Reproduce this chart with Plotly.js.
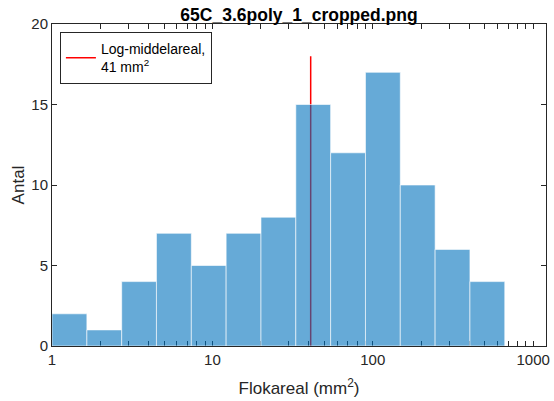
<!DOCTYPE html>
<html>
<head>
<meta charset="utf-8">
<script src="https://cdn.plot.ly/plotly-3.0.1.min.js"></script>
<style>html,body{margin:0;padding:0;background:#fff;}#chart{width:554px;height:401px;}</style>
</head>
<body>
<div id="chart"></div>
<script>
// ---- data ----
const binEdges = [1, 1.65, 2.72, 4.48, 7.39, 12.18, 20.09, 33.12, 54.6, 90.02, 148.41, 244.69, 403.43, 665.14];
const counts = [2, 1, 4, 7, 5, 7, 8, 15, 12, 17, 10, 6, 4];
const logMeanX = [41, 41];
const logMeanY = [0, 18];
const legendLabel = ['Log-middelareal,', '41 mm<sup>2</sup>'];
const xMajorTicks = [1, 10, 100, 1000];
const xMajorLabels = ['1', '10', '100', '1000'];
const xMinorTicks = [2,3,4,5,6,7,8,9,20,30,40,50,60,70,80,90,200,300,400,500,600,700,800,900];
const yTickValues = [0, 5, 10, 15, 20];
const xLimits = [1, 1202];
const yLimits = [0, 20];
const titleText = '65C_3.6poly_1_cropped.png';
const xTitle = 'Flokareal (mm<sup>2</sup>)';
const yTitle = 'Antal';

// ---- build ----
const FONT = 'Liberation Sans, Arial, Helvetica, sans-serif';
const AX = '#262626';
const lg = binEdges.map(v => Math.log10(v));
const centers = counts.map((c, i) => (lg[i] + lg[i + 1]) / 2);
const widths = counts.map((c, i) => lg[i + 1] - lg[i]);

const bars = {
  type: 'bar',
  x: centers,
  y: counts,
  width: widths,
  marker: {color: 'rgba(0,114,189,0.6)', line: {color: 'rgba(255,255,255,0.6)', width: 1}},
  showlegend: false,
  hoverinfo: 'x+y'
};

const layout = {
  width: 554, height: 401,
  margin: {l: 52, r: 8, t: 24, b: 55},
  paper_bgcolor: '#fff', plot_bgcolor: '#fff',
  font: {family: FONT, color: AX},
  title: {
    text: titleText,
    font: {family: FONT, size: 17.5, weight: 'bold', color: '#000'},
    xref: 'paper', x: 0.5, xanchor: 'center',
    yref: 'container', y: 1 - 15 / 401, yanchor: 'middle'
  },
  showlegend: true,
  legend: {
    x: 0.016, y: 0.975, xanchor: 'left', yanchor: 'top',
    bgcolor: '#fff', bordercolor: AX, borderwidth: 1,
    itemwidth: 30,
    font: {family: FONT, size: 14, color: '#000'}
  },
  xaxis: {
    range: xLimits.map(v => Math.log10(v)),
    tickmode: 'array',
    tickvals: xMajorTicks.map(v => Math.log10(v)),
    ticktext: xMajorLabels,
    ticks: 'inside', ticklen: 5, tickwidth: 1, tickcolor: AX,
    minor: {
      tickmode: 'array',
      tickvals: xMinorTicks.map(v => Math.log10(v)),
      ticks: 'inside', ticklen: 5, tickwidth: 1, tickcolor: AX, showgrid: false
    },
    showline: true, linecolor: AX, linewidth: 1, mirror: 'ticks',
    showgrid: false, zeroline: false,
    tickfont: {family: FONT, size: 15, color: AX},
    title: {text: xTitle, font: {family: FONT, size: 17, color: AX}, standoff: 15},
    layer: 'below traces'
  },
  yaxis: {
    range: yLimits,
    tickmode: 'array',
    tickvals: yTickValues,
    ticks: 'inside', ticklen: 5, tickwidth: 1, tickcolor: AX,
    showline: true, linecolor: AX, linewidth: 1, mirror: 'ticks',
    showgrid: false, zeroline: false,
    tickfont: {family: FONT, size: 15, color: AX},
    title: {text: yTitle, font: {family: FONT, size: 17, color: AX}, standoff: 2},
    layer: 'below traces'
  },
  shapes: [{
    type: 'line', xref: 'x', yref: 'y',
    x0: Math.log10(logMeanX[0]), x1: Math.log10(logMeanX[1]),
    y0: logMeanY[0], y1: logMeanY[1],
    line: {color: '#ff0000', width: 1.5},
    layer: 'below',
    showlegend: true,
    name: legendLabel.join('<br>')
  }]
};

Plotly.newPlot('chart', [bars], layout, {displayModeBar: false, staticPlot: true});
</script>
</body>
</html>
